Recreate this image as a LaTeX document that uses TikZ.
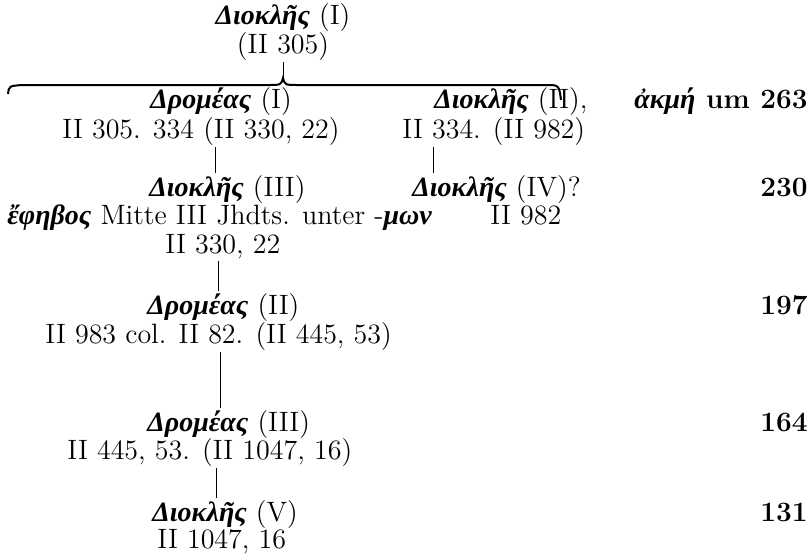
\documentclass[tikz,border=0pt]{standalone}
\usepackage{fontspec}
\newfontfamily\greekfont{Liberation Serif}
\newcommand{\gname}[1]{{\greekfont\bfseries\itshape #1}}
\usetikzlibrary{positioning}

\begin{document}
\begin{tikzpicture}[x=0.5pt,y=-0.5pt,font=\fontsize{14}{17}\selectfont,
   every node/.style={inner sep=1pt},
   entry/.style={anchor=base west},
   mid/.style={anchor=base},
   date/.style={anchor=base east,font=\fontsize{14}{17}\selectfont\bfseries},
   link/.style={line width=0.5pt}]
   \useasboundingbox (0,0) rectangle (812,558);
   % Diokles I and the brace over his sons
   \node[mid] (dk1) at (283,24) {\gname{Διοκλῆς} (I)};
   \node[mid] (dk1ref) at (283,53) {(II 305)};
   \coordinate (tip) at (283,78);
   \draw[line width=1pt] (8,94) .. controls (9,86) .. (22,85) -- (268,85)
      .. controls (281,85) .. (tip) .. controls (285,85) .. (298,85)
      -- (546,85) .. controls (559,85) .. (561,100);
   \draw[link] (dk1ref) -- (tip);
   % first generation
   \node[entry] (dr1) at (148,108) {\gname{Δρομέας} (I)};
   \node[entry] (dr1ref) at (60,138) {II 305. 334 (II 330, 22)};
   \node[entry] (dk2) at (432,108) {\gname{Διοκλῆς} (II),};
   \node[entry] (dk2ref) at (400,138) {II 334. (II 982)};
   % second generation
   \node[entry] (dk3) at (147,196) {\gname{Διοκλῆς} (III)};
   \node[entry] (dk3txt) at (5,224) {\gname{ἔφηβος} Mitte III Jhdts. unter -\gname{μων}};
   \node[entry] (dk3ref) at (163,253) {II 330, 22};
   \node[entry] (dk4) at (410,196) {\gname{Διοκλῆς} (IV)?};
   \node[entry] (dk4ref) at (488,224) {II 982};
   % later generations
   \node[entry] (dr2) at (145,314) {\gname{Δρομέας} (II)};
   \node[entry] (dr2ref) at (43,343) {II 983 col. II 82. (II 445, 53)};
   \node[entry] (dr3) at (145,431) {\gname{Δρομέας} (III)};
   \node[entry] (dr3ref) at (65,459) {II 445, 53. (II 1047, 16)};
   \node[entry] (dk5) at (150,521) {\gname{Διοκλῆς} (V)};
   \node[entry] (dk5ref) at (155,548) {II 1047, 16};
   % dates
   \node[date] (d263) at (810,108) {\gname{ἀκμή} um 263};
   \node[date] (d230) at (810,196) {230};
   \node[date] (d197) at (810,314) {197};
   \node[date] (d164) at (810,431) {164};
   \node[date] (d131) at (810,521) {131};
   % descent lines
   \coordinate (j1) at (215,0);
   \coordinate (j2) at (433,0);
   \coordinate (j3) at (218,0);
   \coordinate (j4) at (220,0);
   \coordinate (j5) at (216,0);
   \draw[link] (dr1ref.south -| j1) -- (dk3.north -| j1);
   \draw[link] (dk2ref.south -| j2) -- (dk4.north -| j2);
   \draw[link] (dk3ref.south -| j3) -- (dr2.north -| j3);
   \draw[link] (dr2ref.south -| j4) -- (dr3.north -| j4);
   \draw[link] (dr3ref.south -| j5) -- (dk5.north -| j5);
\end{tikzpicture}
\end{document}
